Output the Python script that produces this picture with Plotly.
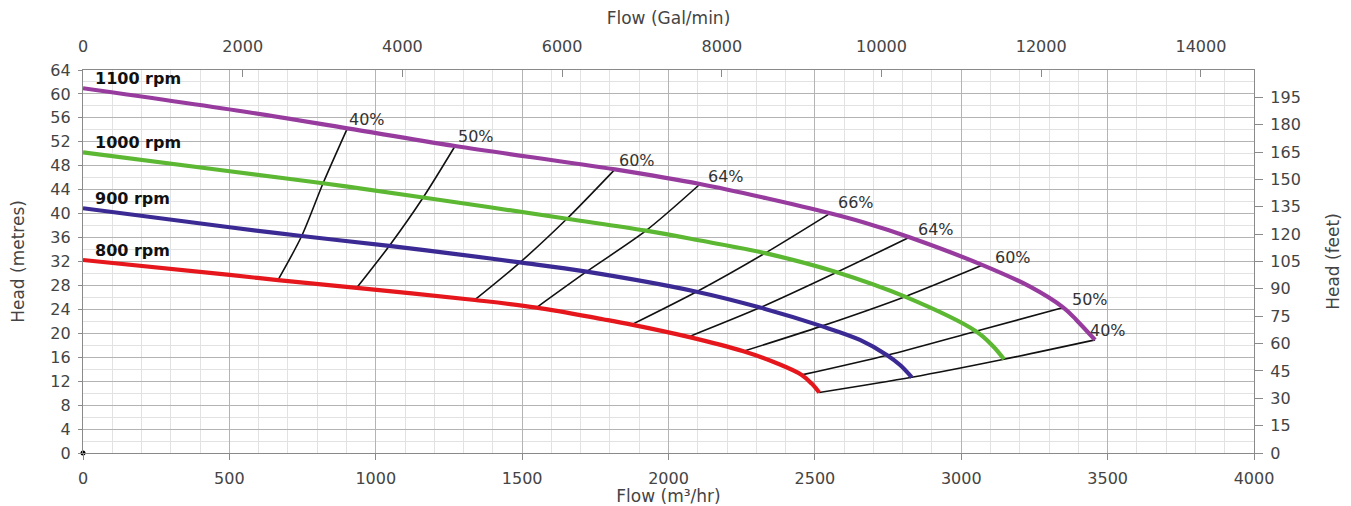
import plotly.graph_objects as go

# ---------------- data ----------------
flow_1100 = [0, 570, 903, 1271, 1817, 2108, 2335, 2552, 2665, 2823, 3073, 3235, 3349, 3394, 3457]
head_1100 = [60.95, 56.9, 54.25, 51.3, 47.4, 44.95, 42.56, 40.05, 38.55, 36.05, 31.4, 27.8, 24.3, 22.2, 18.9]

flow_1000 = [0, 501, 820, 1162, 1653, 1923, 2108, 2330, 2575, 2808, 3050, 3108, 3146]
head_1000 = [50.25, 47.08, 45.07, 42.7, 39.14, 37.15, 35.5, 33.4, 30.21, 26.12, 20.35, 17.88, 15.66]

flow_900 = [0, 501, 747, 1046, 1254, 1493, 1720, 2096, 2313, 2523, 2654, 2747, 2791, 2831]
head_900 = [40.9, 37.72, 36.26, 34.6, 33.37, 31.85, 30.3, 26.95, 24.3, 21.2, 18.9, 16.35, 14.7, 12.65]

flow_800 = [0, 501, 666, 935, 1338, 1549, 1776, 1874, 2068, 2256, 2370, 2455, 2489, 2515]
head_800 = [32.25, 29.75, 28.9, 27.6, 25.57, 24.3, 22.35, 21.45, 19.4, 17.0, 15.0, 13.05, 11.6, 10.1]

speed_labels = ["1100 rpm", "1000 rpm", "900 rpm", "800 rpm"]

# iso-efficiency lines: points on the 800, 900, 1000, 1100 rpm curves
eff_labels = ["40%", "50%", "60%", "64%", "66%", "64%", "60%", "50%", "40%"]
eff_flow = [
    [666, 747, 820, 903],
    [935, 1046, 1162, 1271],
    [1338, 1493, 1653, 1817],
    [1549, 1720, 1923, 2108],
    [1874, 2096, 2330, 2552],
    [2068, 2313, 2575, 2823],
    [2256, 2523, 2808, 3073],
    [2455, 2747, 3050, 3349],
    [2515, 2831, 3146, 3457],
]
eff_head = [
    [28.9, 36.26, 45.07, 54.25],
    [27.6, 34.6, 42.7, 51.3],
    [25.57, 31.85, 39.14, 47.4],
    [24.3, 30.3, 37.15, 44.95],
    [21.45, 26.95, 33.4, 40.05],
    [19.4, 24.3, 30.21, 36.05],
    [17.0, 21.2, 26.12, 31.4],
    [13.05, 16.35, 20.35, 24.3],
    [10.1, 12.65, 15.66, 18.9],
]

origin_x = [0]
origin_y = [0]

x_ticks_m3h = [0, 500, 1000, 1500, 2000, 2500, 3000, 3500, 4000]
x_ticks_gpm = [0, 2000, 4000, 6000, 8000, 10000, 12000, 14000]
y_ticks_m = list(range(0, 65, 4))
y_ticks_ft = list(range(0, 196, 15))

# ---------------- styling ----------------
FLOW_MAX = 4000
HEAD_MAX = 64
GPM_PER_M3H = 3.6662      # imperial gallons per minute per m3/hr
FT_PER_M = 3.28084

FONT = "DejaVu Sans"
TXT = "#444444"
curve_colors = ["#973c9e", "#5cb832", "#3b2a94", "#e5171d"]
label_shifts = [(0, -3), (1, -2), (2, -3), (6, -4), (6, -1), (7, -4), (10, -4), (7, -3), (-7, -2)]

fig = go.Figure()

# efficiency lines (behind the curves)
for fx, hy in zip(eff_flow, eff_head):
    fig.add_trace(go.Scatter(x=fx, y=hy, mode="lines",
                             line=dict(color="#111111", width=1.6, shape="spline", smoothing=0.8),
                             hoverinfo="skip", showlegend=False))

curves = [(flow_1100, head_1100), (flow_1000, head_1000), (flow_900, head_900), (flow_800, head_800)]
for (fx, hy), col, name in zip(curves, curve_colors, speed_labels):
    fig.add_trace(go.Scatter(x=fx, y=hy, mode="lines", name=name,
                             line=dict(color=col, width=4.2, shape="spline", smoothing=1.0),
                             showlegend=False))

fig.add_trace(go.Scatter(x=origin_x, y=origin_y, mode="markers",
                         marker=dict(color="black", size=5), showlegend=False, cliponaxis=False))

# invisible trace to hold the secondary axes
fig.add_trace(go.Scatter(x=[0], y=[0], xaxis="x2", yaxis="y2", mode="markers",
                         marker=dict(opacity=0), hoverinfo="skip", showlegend=False))

annotations = []
for (fx, hy), name in zip(curves, speed_labels):
    annotations.append(dict(x=fx[0], y=hy[0], text="<b>" + name + "</b>", showarrow=False,
                            xanchor="left", yanchor="bottom", xshift=10, yshift=-2,
                            font=dict(family=FONT, size=16, color="#111111")))
for lab, fx, hy, (dx, dy) in zip(eff_labels, eff_flow, eff_head, label_shifts):
    annotations.append(dict(x=fx[-1], y=hy[-1], text=lab, showarrow=False,
                            xanchor="left", yanchor="bottom", xshift=dx, yshift=dy,
                            font=dict(family=FONT, size=16, color="#333333")))

axis_common = dict(showline=True, linecolor="#8a8a8a", linewidth=1.2, automargin=False,
                   tickfont=dict(family=FONT, size=16, color=TXT), zeroline=False)
title_font = dict(family=FONT, size=17, color=TXT)

# the page body adds an 8px margin, so the figure is 8px smaller than the window
fig.update_layout(
    width=1343, height=498,
    margin=dict(l=75, r=97, t=62, b=53),
    paper_bgcolor="white", plot_bgcolor="white",
    annotations=annotations,
    xaxis=dict(range=[0, FLOW_MAX], tickvals=x_ticks_m3h, ticks="outside", ticklen=6,
               tickcolor="#8a8a8a", showgrid=True, gridcolor="#b4b4b4", gridwidth=1,
               minor=dict(dtick=100, showgrid=True, gridcolor="#e2e2e2", gridwidth=1),
               title=dict(text="Flow (m³/hr)", font=title_font, standoff=0),
               ticklabelstandoff=5, **axis_common),
    yaxis=dict(range=[0, HEAD_MAX], tickvals=y_ticks_m, ticks="outside", ticklen=4,
               tickcolor="#8a8a8a", showgrid=True, gridcolor="#b4b4b4", gridwidth=1,
               minor=dict(dtick=2, showgrid=True, gridcolor="#e2e2e2", gridwidth=1),
               title=dict(text="Head (metres)", font=title_font, standoff=25),
               ticklabelstandoff=4, **axis_common),
    xaxis2=dict(range=[0, FLOW_MAX * GPM_PER_M3H], tickvals=x_ticks_gpm, tickformat="d",
                overlaying="x", side="top",
                ticks="inside", ticklen=7, tickcolor="#8a8a8a", showgrid=False,
                title=dict(text="Flow (Gal/min)", font=title_font, standoff=16),
                ticklabelstandoff=11, **axis_common),
    yaxis2=dict(range=[0, HEAD_MAX * FT_PER_M], tickvals=y_ticks_ft, overlaying="y", side="right",
                ticks="outside", ticklen=8, tickcolor="#8a8a8a", showgrid=False,
                title=dict(text="Head (feet)", font=title_font, standoff=27),
                ticklabelstandoff=4, **axis_common),
)

fig.write_html("out.html")
